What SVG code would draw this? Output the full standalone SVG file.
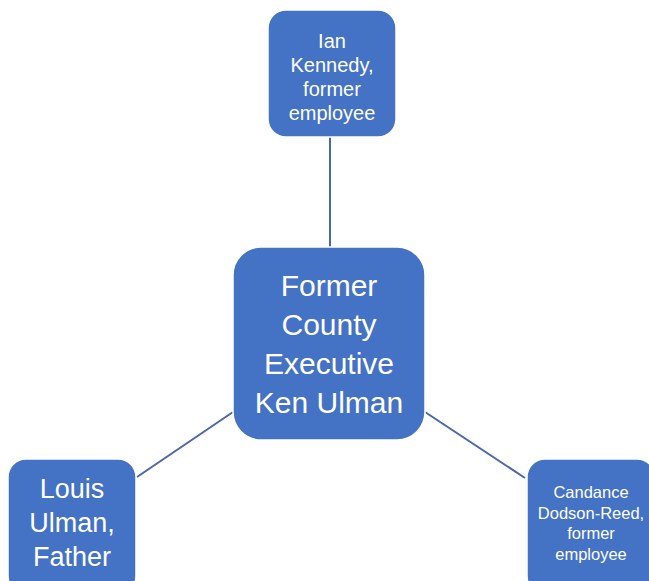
<svg xmlns="http://www.w3.org/2000/svg" width="649" height="581" viewBox="0 0 649 581">
<style>
.node{fill:#4472C4;stroke:#FFFFFF;stroke-width:1.5}
.lbl{fill:#FFFFFF;font-family:"Liberation Sans",Arial,sans-serif;text-anchor:middle}
.edge{stroke:#4A66AC;stroke-width:2;fill:none}
</style>
<rect width="649" height="581" fill="#FFFFFF"/>
<g id="connectors">
<line class="edge" x1="330" y1="137" x2="330" y2="247"/>
<line class="edge" x1="233" y1="412" x2="137" y2="477"/>
<line class="edge" x1="425" y1="412" x2="525" y2="478"/>
</g>
<g id="node-ian">
<rect class="node" x="268" y="10" width="128" height="127" rx="18"/>
<text class="lbl" font-size="20"><tspan x="332" y="48">Ian</tspan><tspan x="332" y="72">Kennedy,</tspan><tspan x="332" y="96">former</tspan><tspan x="332" y="120">employee</tspan></text>
</g>
<g id="node-ken">
<rect class="node" x="233" y="247" width="192" height="193" rx="28"/>
<text class="lbl" font-size="30"><tspan x="329" y="296">Former</tspan><tspan x="329" y="335">County</tspan><tspan x="329" y="374">Executive</tspan><tspan x="329" y="413">Ken Ulman</tspan></text>
</g>
<g id="node-louis">
<rect class="node" x="8" y="459" width="128" height="135" rx="18"/>
<text class="lbl" font-size="27"><tspan x="72" y="498">Louis</tspan><tspan x="72" y="532">Ulman,</tspan><tspan x="72" y="566">Father</tspan></text>
</g>
<g id="node-candance">
<rect class="node" x="527" y="459" width="128" height="135" rx="18"/>
<text class="lbl" font-size="16.5"><tspan x="591" y="498">Candance</tspan><tspan x="591" y="518.5">Dodson-Reed,</tspan><tspan x="591" y="539">former</tspan><tspan x="591" y="559.5">employee</tspan></text>
</g>
</svg>
